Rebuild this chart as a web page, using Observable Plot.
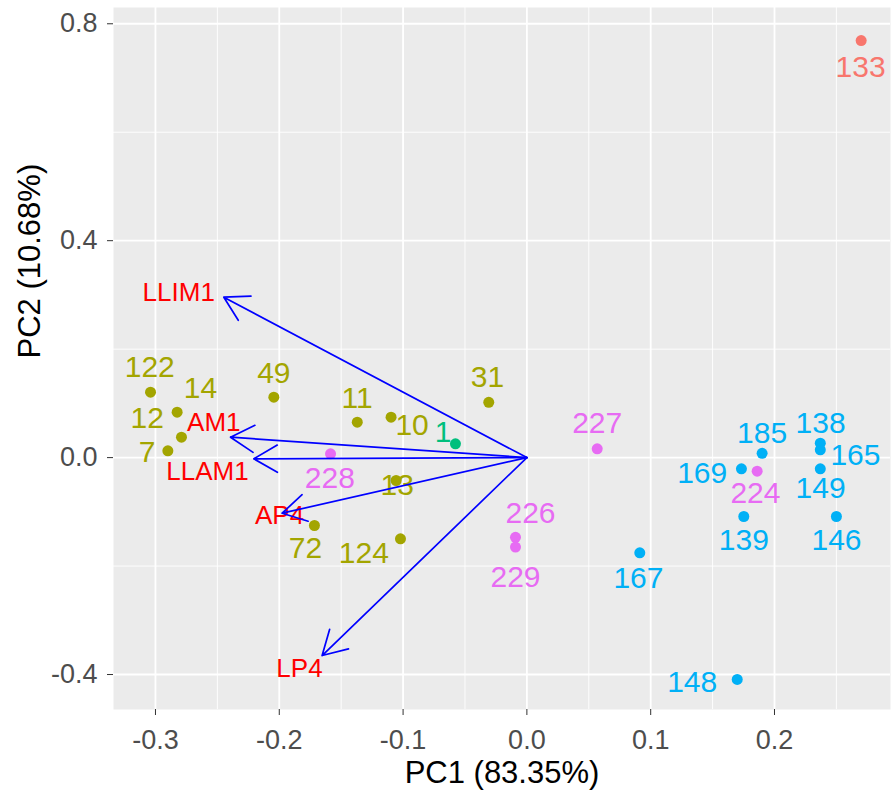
<!DOCTYPE html>
<html><head><meta charset="utf-8">
<script src="https://cdn.jsdelivr.net/npm/d3@7"></script>
<script src="https://cdn.jsdelivr.net/npm/@observablehq/plot@0.6"></script>
<style>body{margin:0;background:#fff}</style>
</head><body><div id="chart"></div>
<script>
// Individuals (samples)
const ids    = ["133","122","14","12","7","49","11","10","31","13","72","124","1","228","226","229","227","224","185","169","138","165","149","139","146","167","148"];
const groups = [1,2,2,2,2,2,2,2,2,2,2,2,3,5,5,5,5,5,4,4,4,4,4,4,4,4,4];
const pc1    = [0.270,-0.304,-0.2825,-0.279,-0.290,-0.2044,-0.137,-0.1097,-0.0308,-0.1056,-0.1716,-0.1021,-0.0577,-0.1586,-0.0092,-0.0092,0.0568,0.186,0.190,0.1733,0.237,0.237,0.237,0.1752,0.250,0.0912,0.1699];
const pc2    = [0.769,0.1206,0.0837,0.0376,0.0125,0.1114,0.0653,0.0745,0.102,-0.0422,-0.1252,-0.1498,0.0254,0.007,-0.147,-0.165,0.0162,-0.025,0.008,-0.0207,0.0266,0.0144,-0.0207,-0.1086,-0.1086,-0.1756,-0.409];
// repelled label anchors (data units)
const labPc1 = [0.2695,-0.3046,-0.2637,-0.3067,-0.3067,-0.2044,-0.1371,-0.0927,-0.0318,-0.1048,-0.1788,-0.1317,-0.0676,-0.1592,0.0029,-0.0092,0.0568,0.1846,0.190,0.1416,0.2372,0.2654,0.2372,0.1752,0.2501,0.0901,0.1335];
const labPc2 = [0.720,0.1656,0.1269,0.0715,0.0105,0.1545,0.1084,0.0592,0.1477,-0.0515,-0.1682,-0.1774,0.0468,-0.0391,-0.1036,-0.2206,0.0623,-0.0668,0.045,-0.0299,0.0623,0.0039,-0.0575,-0.1529,-0.1529,-0.2229,-0.4142];
const groupNames  = [1,2,3,4,5];
const groupColors = ["#F8766D","#A3A500","#00BF7D","#00B0F6","#E76BF3"];

// Variables (loadings)
const varNames  = ["LLIM1","AM1","LLAM1","AP4","LP4"];
const varPc1    = [-0.2448,-0.2394,-0.2206,-0.1977,-0.1654];
const varPc2    = [0.2958,0.0376,-0.0022,-0.1025,-0.365];
const varLabPc1 = [-0.2812,-0.2529,-0.258,-0.1998,-0.1837];
const varLabPc2 = [0.305,0.0653,-0.0256,-0.1068,-0.3895];

// Axes
const xMajor = [-0.3,-0.2,-0.1,0.0,0.1,0.2];
const xMinor = [-0.25,-0.15,-0.05,0.05,0.15,0.25];
const yMajor = [-0.4,0.0,0.4,0.8];
const yMinor = [-0.2,0.2,0.6];
const xTitle = "PC1 (83.35%)";
const yTitle = "PC2 (10.68%)";

const inds = ids.map((id,i)=>({id, g:groups[i], x:pc1[i], y:pc2[i], lx:labPc1[i], ly:labPc2[i]}));
const vars = varNames.map((n,i)=>({n, x:varPc1[i], y:varPc2[i], lx:varLabPc1[i], ly:varLabPc2[i]}));
const fmt = d => d.toFixed(1);

const chart = Plot.plot({
  width: 891, height: 798,
  marginLeft: 113, marginRight: 1, marginTop: 7, marginBottom: 89,
  style: {fontFamily: "'Liberation Sans', Arial, Helvetica, sans-serif", background: "#fff", overflow: "visible"},
  x: {domain: [-0.3339, 0.2937]},
  y: {domain: [-0.4645, 0.830]},
  color: {domain: groupNames, range: groupColors},
  marks: [
    Plot.frame({fill: "#EBEBEB", stroke: "none"}),
    Plot.ruleX(xMinor, {stroke: "#fff", strokeWidth: 0.9}),
    Plot.ruleY(yMinor, {stroke: "#fff", strokeWidth: 0.9}),
    Plot.ruleX(xMajor, {stroke: "#fff", strokeWidth: 1.8}),
    Plot.ruleY(yMajor, {stroke: "#fff", strokeWidth: 1.8}),
    Plot.axisX(xMajor, {tickSize: 6, tickPadding: 14, fontSize: 27, stroke: "#333", fill: "#4D4D4D", tickFormat: fmt, label: null}),
    Plot.axisY(yMajor, {tickSize: 6, tickPadding: 10, fontSize: 27, stroke: "#333", fill: "#4D4D4D", tickFormat: fmt, label: null}),
    Plot.text([xTitle], {frameAnchor: "bottom", dy: 73, fontSize: 31, fill: "#000"}),
    Plot.text([yTitle], {frameAnchor: "left", dx: -83, rotate: -90, fontSize: 31, fill: "#000"}),
    Plot.dot(inds, {x: "x", y: "y", r: 5.5, fill: "g", stroke: "none"}),
    Plot.text(inds, {x: "lx", y: "ly", text: "id", fill: "g", fontSize: 30}),
    Plot.text(vars, {x: "lx", y: "ly", text: "n", fill: "#FF0000", fontSize: 26}),
    Plot.arrow(vars, {x1: () => 0, y1: () => 0, x2: "x", y2: "y", stroke: "#0000FF", strokeWidth: 1.7, headLength: 24, headAngle: 60})
  ]
});
document.getElementById("chart").append(chart);
</script>
</body></html>
